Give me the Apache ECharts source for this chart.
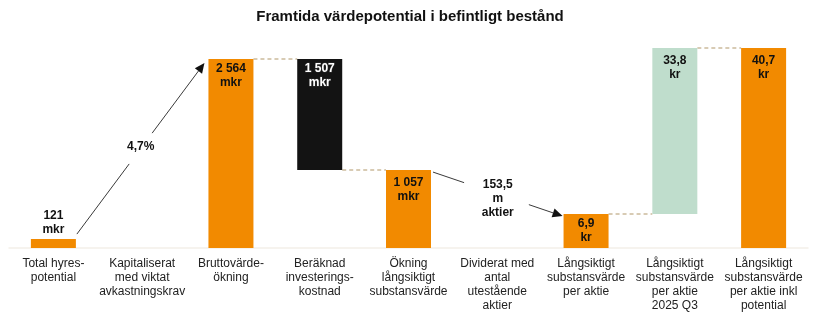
<!DOCTYPE html>
<html>
<head>
<meta charset="utf-8">
<script src="https://cdn.jsdelivr.net/npm/echarts@6/dist/echarts.min.js"></script>
<style>
html,body{margin:0;padding:0;background:#fff;}
#c{width:820px;height:323px;}
</style>
</head>
<body>
<div id="c"></div>
<script>
const categories = [
  'Total hyres-\npotential',
  'Kapitaliserat\nmed viktat\navkastningskrav',
  'Bruttovärde-\nökning',
  'Beräknad\ninvesterings-\nkostnad',
  'Ökning\nlångsiktigt\nsubstansvärde',
  'Dividerat med\nantal\nutestående\naktier',
  'Långsiktigt\nsubstansvärde\nper aktie',
  'Långsiktigt\nsubstansvärde\nper aktie\n2025 Q3',
  'Långsiktigt\nsubstansvärde\nper aktie inkl\npotential'
];
// values in mkr (left scale) and kr per share (right scale)
const mkrValues = [121, null, 2564, 1507, 1057, null, null, null, null];
const krValues  = [null, null, null, null, null, null, 6.9, 33.8, 40.7];
const units     = ['mkr', '', 'mkr', 'mkr', 'mkr', '', 'kr', 'kr', 'kr'];
const stepLabels = ['4,7%', '153,5\nm\naktier'];

// waterfall bases
const mkrBase = mkrValues.map((v, i) => v == null ? null : 0);
mkrBase[3] = mkrValues[2] - mkrValues[3];
const krBase = krValues.map((v, i) => v == null ? null : 0);
krBase[7] = krValues[6];

const ORANGE = '#F28A00', BLACK = '#131313', GREEN = '#BFDDCC';
const colors = [ORANGE, null, ORANGE, BLACK, ORANGE, null, ORANGE, GREEN, ORANGE];

function fmt(v) {
  let s = String(v).replace('.', ',');
  let parts = s.split(',');
  parts[0] = parts[0].replace(/\B(?=(\d{3})+(?!\d))/g, ' ');
  return parts.join(',');
}

const FONT = 'Liberation Sans, Arial, sans-serif';

function mkData(vals) {
  return vals.map((v, i) => {
    if (v == null) return null;
    const dark = colors[i] === BLACK;
    return {
      value: v,
      itemStyle: { color: colors[i] },
      label: {
        show: true,
        position: i === 0 ? 'top' : 'insideTop',
        distance: i === 0 ? 2 : (i === 4 || i === 7 || i === 8 ? 6 : 3),
        formatter: fmt(v) + '\n' + units[i],
        color: dark ? '#fff' : '#111',
        fontWeight: 'bold',
        fontSize: 12,
        lineHeight: 14,
        fontFamily: FONT,
        textBorderColor: dark ? '#333' : 'transparent',
        textBorderWidth: dark ? 1 : 0
      }
    };
  });
}

const chart = echarts.init(document.getElementById('c'), null, { renderer: 'canvas' });
const option = {
  animation: false,
  backgroundColor: '#fff',
  title: {
    text: 'Framtida värdepotential i befintligt bestånd',
    left: 'center',
    top: 4,
    textStyle: { fontFamily: FONT, fontSize: 15, fontWeight: 'bold', color: '#111' }
  },
  grid: { left: 9, right: 12, top: 48, bottom: 75 },
  xAxis: {
    type: 'category',
    data: categories,
    axisTick: { show: false },
    axisLine: { lineStyle: { color: '#F4EFE9', width: 1.5 } },
    axisLabel: { interval: 0, fontSize: 12, lineHeight: 14, margin: 9, color: '#222', fontFamily: FONT }
  },
  yAxis: [
    { type: 'value', show: false, min: 0, max: 2713 },
    { type: 'value', show: false, min: 0, max: 40.7 }
  ],
  series: [
    { type: 'bar', stack: 'm', yAxisIndex: 0, barWidth: 45, barGap: '-100%', data: mkrBase, itemStyle: { color: 'transparent' }, silent: true },
    { type: 'bar', stack: 'm', yAxisIndex: 0, barWidth: 45, barGap: '-100%', data: mkData(mkrValues) },
    { type: 'bar', stack: 'k', yAxisIndex: 1, barWidth: 45, barGap: '-100%', data: krBase, itemStyle: { color: 'transparent' }, silent: true },
    { type: 'bar', stack: 'k', yAxisIndex: 1, barWidth: 45, barGap: '-100%', data: mkData(krValues) }
  ]
};
chart.setOption(option);

// annotations computed from the scales
const HW = 22.5;
const pm = (i, v) => chart.convertToPixel({ seriesIndex: 1 }, [i, v]);
const pk = (i, v) => chart.convertToPixel({ seriesIndex: 3 }, [i, v]);
const graphics = [];
const DASH = { stroke: '#CBBB9C', lineWidth: 1.5, lineDash: [4, 3] };
function dashed(a, b) {
  graphics.push({ type: 'line', shape: { x1: a[0], y1: a[1], x2: b[0], y2: b[1] }, style: DASH });
}
// connectors
let a = pm(2, mkrValues[2]), b = pm(3, mkrValues[2]);
dashed([a[0] + HW, a[1]], [b[0] - HW, b[1]]);
a = pm(3, mkrBase[3]); b = pm(4, mkrBase[3]);
dashed([a[0] + HW, a[1]], [b[0] - HW, b[1]]);
a = pk(6, krValues[6]); b = pk(7, krValues[6]);
dashed([a[0] + HW, a[1]], [b[0] - HW, b[1]]);
a = pk(7, krBase[7] + krValues[7]); b = pk(8, krValues[8]);
dashed([a[0] + HW, a[1]], [b[0] - HW, b[1]]);

function arrow(p0, p1, g0, g1, text, labelDy) {
  const L = (t) => [p0[0] + (p1[0] - p0[0]) * t, p0[1] + (p1[1] - p0[1]) * t];
  const s1 = L(g0), s2 = L(g1);
  const st = { stroke: '#3a3a3a', lineWidth: 1 };
  graphics.push({ type: 'line', shape: { x1: p0[0], y1: p0[1], x2: s1[0], y2: s1[1] }, style: st });
  const dx = p1[0] - p0[0], dy = p1[1] - p0[1], len = Math.hypot(dx, dy);
  const ux = dx / len, uy = dy / len, hl = 10, hw = 4.5;
  const base = [p1[0] - ux * hl, p1[1] - uy * hl];
  graphics.push({ type: 'line', shape: { x1: s2[0], y1: s2[1], x2: base[0], y2: base[1] }, style: st });
  graphics.push({ type: 'polygon', shape: { points: [p1, [base[0] - uy * hw, base[1] + ux * hw], [base[0] + uy * hw, base[1] - ux * hw]] }, style: { fill: '#111' } });
  const m = L(0.5);
  graphics.push({ type: 'text', x: m[0], y: m[1] + labelDy, style: { text: text, fill: '#111', font: 'bold 12px ' + FONT, align: 'center', verticalAlign: 'middle', lineHeight: 14 } });
}
a = pm(0, mkrValues[0]); b = pm(2, mkrValues[2]);
arrow([a[0] + HW + 1, a[1] - 5], [b[0] - HW - 4, b[1] + 4], 0.41, 0.59, stepLabels[0], -2);
a = pm(4, mkrValues[4]); b = pk(6, krValues[6]);
arrow([a[0] + HW + 2, a[1] + 2], [b[0] - HW - 1, b[1] + 2], 0.24, 0.74, stepLabels[1], 5);

chart.setOption({ graphic: graphics });
</script>
</body>
</html>
